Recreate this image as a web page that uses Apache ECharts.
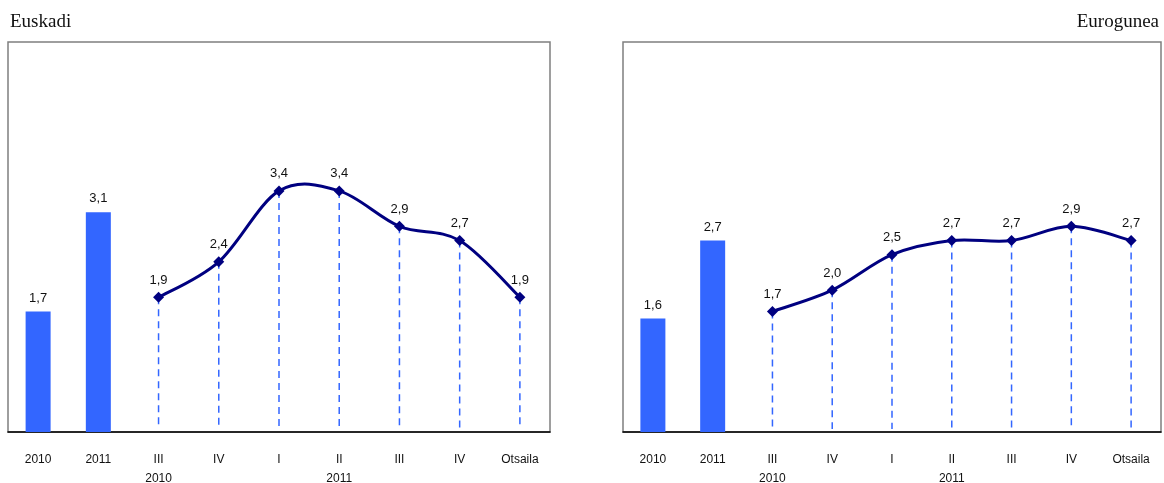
<!DOCTYPE html>
<html><head><meta charset="utf-8">
<script src="https://cdn.jsdelivr.net/npm/echarts@6/dist/echarts.min.js"></script>
<style>html,body{margin:0;padding:0;background:#fff;overflow:hidden}#c{width:1164px;height:483px}</style>
</head><body><div id="c"></div>
<script>
const categories = ['2010','2011','III','IV','I','II','III','IV','Otsaila'];
const yearRowLabels = ['', '', '2010', '', '', '2011', '', '', ''];
const euskadiBars = [1.7, 3.1];
const euskadiLine = [1.9, 2.4, 3.4, 3.4, 2.9, 2.7, 1.9];
const euroBars = [1.6, 2.7];
const euroLine = [1.7, 2.0, 2.5, 2.7, 2.7, 2.9, 2.7];
const titles = ['Euskadi', 'Eurogunea'];

const fmt = v => v.toFixed(1).replace('.', ',');
const chart = echarts.init(document.getElementById('c'));
const H = chart.getHeight();
const axisY = 432;
const grids = [
  {left: 8, right: 614, top: 42, bottom: H - axisY},
  {left: 623, right: 3, top: 42, bottom: H - axisY}
];
const barsAll = [euskadiBars, euroBars];
const linesAll = [euskadiLine, euroLine];
const labels = categories.map((c, i) => yearRowLabels[i] ? c + '\n' + yearRowLabels[i] : c);
const labelFont = {fontFamily: 'Liberation Sans, Arial', fontSize: 13, color: '#111'};

function smoothPath(pts) {
  let d = 'M' + pts[0][0] + ' ' + pts[0][1];
  for (let i = 0; i < pts.length - 1; i++) {
    const p0 = pts[Math.max(i - 1, 0)], p1 = pts[i], p2 = pts[i + 1], p3 = pts[Math.min(i + 2, pts.length - 1)];
    const c1 = [p1[0] + (p2[0] - p0[0]) / 6, p1[1] + (p2[1] - p0[1]) / 6];
    const c2 = [p2[0] - (p3[0] - p1[0]) / 6, p2[1] - (p3[1] - p1[1]) / 6];
    d += ' C' + c1[0] + ' ' + c1[1] + ' ' + c2[0] + ' ' + c2[1] + ' ' + p2[0] + ' ' + p2[1];
  }
  return d;
}

const series = [];
for (let g = 0; g < 2; g++) {
  const bars = barsAll[g];
  const line = linesAll[g];
  const off = bars.length;
  const barData = categories.map((c, i) => i < off ? bars[i] : '-');
  const lineData = categories.map((c, i) => i >= off ? line[i - off] : '-');
  series.push({
    type: 'bar', xAxisIndex: g, yAxisIndex: g, data: barData, barWidth: 25,
    itemStyle: {color: '#3366FF'},
    label: Object.assign({show: true, position: 'top', distance: 7, formatter: p => fmt(p.value)}, labelFont)
  });
  series.push({
    type: 'custom', xAxisIndex: g, yAxisIndex: g, z: 1, silent: true,
    data: line.map((v, k) => [off + k, v]),
    renderItem: (params, api) => {
      const top = api.coord([api.value(0), api.value(1)]);
      const bot = api.coord([api.value(0), 0]);
      return {type: 'line', shape: {x1: top[0], y1: top[1], x2: bot[0], y2: bot[1] - 3},
        style: {stroke: '#3366FF', lineWidth: 1.5, lineDash: [7, 5]}};
    }
  });
  series.push({
    type: 'custom', xAxisIndex: g, yAxisIndex: g, z: 3, silent: true,
    data: [0],
    renderItem: (params, api) => {
      const pts = line.map((v, k) => api.coord([off + k, v]));
      return {type: 'path', shape: {pathData: smoothPath(pts)},
        style: {stroke: '#000080', lineWidth: 3, fill: null}};
    }
  });
  series.push({
    type: 'line', xAxisIndex: g, yAxisIndex: g, data: lineData,
    symbol: 'diamond', symbolSize: 11, z: 5,
    lineStyle: {opacity: 0},
    itemStyle: {color: '#000080'},
    label: Object.assign({show: true, position: 'top', distance: 5, formatter: p => fmt(p.value)}, labelFont)
  });
}

chart.setOption({
  animation: false,
  title: [
    {text: titles[0], left: 5, top: 8, textStyle: {fontFamily: 'Liberation Serif, DejaVu Serif, serif', fontSize: 19, fontWeight: 'normal', color: '#111'}},
    {text: titles[1], right: 0, top: 8, textStyle: {fontFamily: 'Liberation Serif, DejaVu Serif, serif', fontSize: 19, fontWeight: 'normal', color: '#111'}}
  ],
  grid: grids.map(g => Object.assign({show: true, borderColor: '#7f7f7f', borderWidth: 1.5, backgroundColor: '#fff', containLabel: false, outerBoundsMode: 'none'}, g)),
  xAxis: [0, 1].map(g => ({
    type: 'category', gridIndex: g, data: labels, boundaryGap: true,
    axisLine: {lineStyle: {color: '#000', width: 1.5}},
    axisTick: {inside: true, length: 5, lineStyle: {color: '#000'}},
    axisLabel: {margin: 18, fontFamily: 'Liberation Sans, Arial', fontSize: 12, color: '#111', lineHeight: 19, interval: 0}
  })),
  yAxis: [0, 1].map(g => ({
    type: 'value', gridIndex: g, min: 0, max: 5.5,
    axisLine: {show: false}, axisTick: {show: false}, axisLabel: {show: false}, splitLine: {show: false}
  })),
  series: series
});
</script></body></html>
